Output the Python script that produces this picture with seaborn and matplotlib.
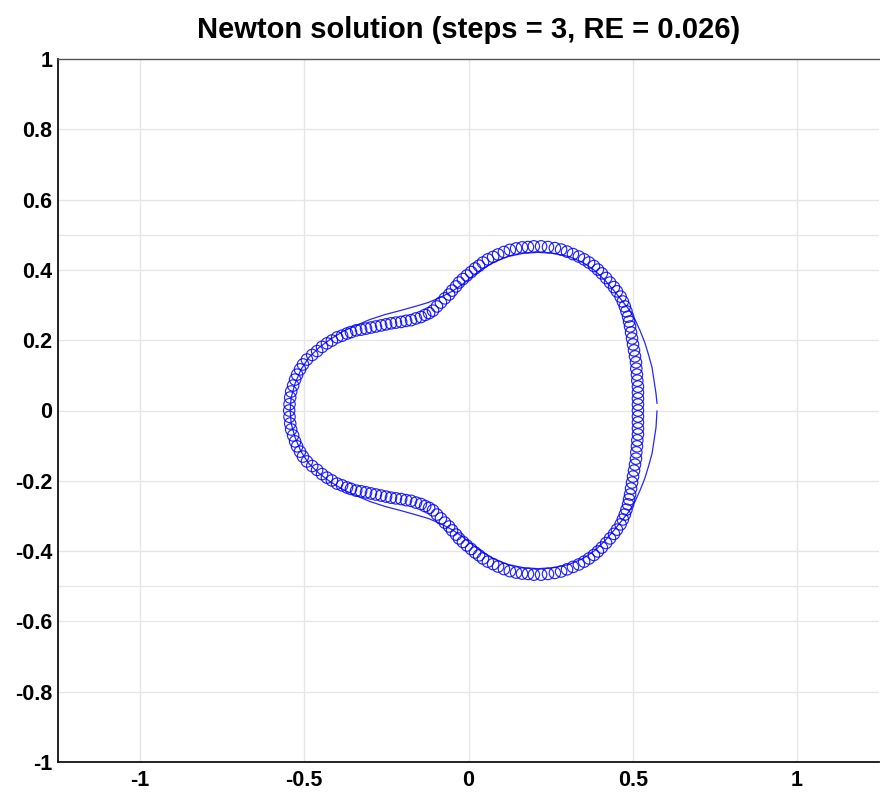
import matplotlib
matplotlib.use("Agg")
import matplotlib.pyplot as plt
import seaborn as sns
import pandas as pd

# ---- data ----
marker_x = [
    0.516, 0.516, 0.516, 0.516, 0.516, 0.514, 0.513, 0.511, 0.510, 0.507,
    0.504, 0.501, 0.498, 0.495, 0.492, 0.489, 0.486, 0.481, 0.476, 0.470,
    0.463, 0.452, 0.443, 0.431, 0.419, 0.406, 0.394, 0.382, 0.367, 0.352,
    0.336, 0.318, 0.300, 0.282, 0.263, 0.242, 0.221, 0.199, 0.181, 0.163,
    0.145, 0.126, 0.108, 0.090, 0.075, 0.059, 0.044, 0.032, 0.020, 0.008,
    -0.005, -0.017, -0.029, -0.038, -0.050, -0.059, -0.072, -0.084, -0.096, -0.108,
    -0.120, -0.132, -0.145, -0.160, -0.175, -0.190, -0.205, -0.221, -0.236, -0.251,
    -0.266, -0.282, -0.297, -0.312, -0.327, -0.342, -0.358, -0.370, -0.385, -0.400,
    -0.416, -0.431, -0.446, -0.461, -0.476, -0.492, -0.504, -0.513, -0.522, -0.528,
    -0.534, -0.540, -0.543, -0.545, -0.546,
    -0.545, -0.543, -0.540, -0.534, -0.528, -0.522, -0.513, -0.504, -0.492, -0.476,
    -0.461, -0.446, -0.431, -0.416, -0.400, -0.385, -0.370, -0.358, -0.342, -0.327,
    -0.312, -0.297, -0.282, -0.266, -0.251, -0.236, -0.221, -0.205, -0.190, -0.175,
    -0.160, -0.145, -0.132, -0.120, -0.108, -0.096, -0.084, -0.072, -0.059, -0.050,
    -0.038, -0.029, -0.017, -0.005, 0.008, 0.020, 0.032, 0.044, 0.059, 0.075,
    0.090, 0.108, 0.126, 0.145, 0.163, 0.181, 0.199, 0.221, 0.242, 0.263,
    0.282, 0.300, 0.318, 0.336, 0.352, 0.367, 0.382, 0.394, 0.406, 0.419,
    0.431, 0.443, 0.452, 0.463, 0.470, 0.476, 0.481, 0.486, 0.489, 0.492,
    0.495, 0.498, 0.501, 0.504, 0.507, 0.510, 0.511, 0.513, 0.514, 0.516,
    0.516, 0.516, 0.516,
]
marker_y = [
    0.000, 0.017, 0.034, 0.051, 0.068, 0.085, 0.102, 0.119, 0.137, 0.154,
    0.171, 0.188, 0.205, 0.222, 0.239, 0.253, 0.267, 0.282, 0.296, 0.310,
    0.324, 0.339, 0.351, 0.364, 0.377, 0.390, 0.401, 0.411, 0.421, 0.430,
    0.438, 0.445, 0.452, 0.458, 0.462, 0.465, 0.467, 0.467, 0.465, 0.464,
    0.461, 0.457, 0.451, 0.444, 0.437, 0.430, 0.421, 0.412, 0.404, 0.394,
    0.384, 0.374, 0.364, 0.353, 0.341, 0.330, 0.319, 0.307, 0.296, 0.284,
    0.277, 0.272, 0.266, 0.262, 0.257, 0.255, 0.252, 0.250, 0.248, 0.245,
    0.242, 0.239, 0.236, 0.233, 0.230, 0.228, 0.223, 0.219, 0.213, 0.208,
    0.199, 0.191, 0.181, 0.169, 0.158, 0.145, 0.131, 0.117, 0.102, 0.088,
    0.071, 0.054, 0.037, 0.018, 0.000,
    -0.018, -0.037, -0.054, -0.071, -0.088, -0.102, -0.117, -0.131, -0.145, -0.158,
    -0.169, -0.181, -0.191, -0.199, -0.208, -0.213, -0.219, -0.223, -0.228, -0.230,
    -0.233, -0.236, -0.239, -0.242, -0.245, -0.248, -0.250, -0.252, -0.255, -0.257,
    -0.262, -0.266, -0.272, -0.277, -0.284, -0.296, -0.307, -0.319, -0.330, -0.341,
    -0.353, -0.364, -0.374, -0.384, -0.394, -0.404, -0.412, -0.421, -0.430, -0.437,
    -0.444, -0.451, -0.457, -0.461, -0.464, -0.465, -0.467, -0.467, -0.465, -0.462,
    -0.458, -0.452, -0.445, -0.438, -0.430, -0.421, -0.411, -0.401, -0.390, -0.377,
    -0.364, -0.351, -0.339, -0.324, -0.310, -0.296, -0.282, -0.267, -0.253, -0.239,
    -0.222, -0.205, -0.188, -0.171, -0.154, -0.137, -0.119, -0.102, -0.085, -0.068,
    -0.051, -0.034, -0.017,
]

line_x = [
    0.574, 0.571, 0.565, 0.559, 0.549, 0.537, 0.522, 0.507, 0.489, 0.467,
    0.443, 0.416, 0.385, 0.349, 0.306, 0.260, 0.212, 0.166, 0.120, 0.081,
    0.044, 0.011, -0.020, -0.050, -0.087, -0.123, -0.163, -0.209, -0.254, -0.300,
    -0.342, -0.382, -0.422, -0.455, -0.486, -0.510, -0.528, -0.540, -0.543,
    -0.540, -0.528, -0.510, -0.486, -0.455, -0.422, -0.382, -0.342, -0.300, -0.254,
    -0.209, -0.163, -0.123, -0.087, -0.050, -0.020, 0.011, 0.044, 0.081, 0.120,
    0.166, 0.212, 0.260, 0.306, 0.349, 0.385, 0.416, 0.443, 0.467, 0.489,
    0.507, 0.522, 0.537, 0.549, 0.559, 0.565, 0.571, 0.574,
]
line_y = [
    0.020, 0.048, 0.085, 0.122, 0.156, 0.193, 0.228, 0.259, 0.287, 0.313,
    0.341, 0.370, 0.398, 0.421, 0.438, 0.447, 0.450, 0.447, 0.438, 0.424,
    0.404, 0.381, 0.358, 0.339, 0.321, 0.307, 0.296, 0.284, 0.273, 0.259,
    0.242, 0.225, 0.202, 0.179, 0.151, 0.117, 0.077, 0.037, 0.000,
    -0.037, -0.077, -0.117, -0.151, -0.179, -0.202, -0.225, -0.242, -0.259, -0.273,
    -0.284, -0.296, -0.307, -0.321, -0.339, -0.358, -0.381, -0.404, -0.424, -0.438,
    -0.447, -0.450, -0.447, -0.438, -0.421, -0.398, -0.370, -0.341, -0.313, -0.287,
    -0.259, -0.228, -0.193, -0.156, -0.122, -0.085, -0.048, -0.001,
]

x_ticks = [-1, -0.5, 0, 0.5, 1]
x_tick_labels = ["-1", "-0.5", "0", "0.5", "1"]
y_ticks = [-1, -0.8, -0.6, -0.4, -0.2, 0, 0.2, 0.4, 0.6, 0.8, 1]
y_tick_labels = ["-1", "-0.8", "-0.6", "-0.4", "-0.2", "0", "0.2", "0.4", "0.6", "0.8", "1"]
title_text = "Newton solution (steps = 3, RE = 0.026)"

# ---- figure ----
sns.set_theme(style="white")
plt.rcParams["font.family"] = ["Liberation Sans", "DejaVu Sans"]
plt.rcParams["axes.unicode_minus"] = False

W, H = 880, 797
fig = plt.figure(figsize=(W / 100, H / 100), dpi=100)
ax = fig.add_axes([58 / W, 1 - 762 / H, 821 / W, (762 - 59) / H])

grid_c = "#e6e6e6"
for gy in [-0.8, -0.6, -0.5, -0.4, -0.2, 0, 0.2, 0.4, 0.5, 0.6, 0.8]:
    ax.axhline(gy, color=grid_c, lw=1.0, zorder=0)
for gx in x_ticks:
    ax.axvline(gx, color=grid_c, lw=1.0, zorder=0)

line_df = pd.DataFrame({"x": line_x, "y": line_y})
marker_df = pd.DataFrame({"x": marker_x, "y": marker_y})

sns.lineplot(data=line_df, x="x", y="y", sort=False, estimator=None,
             color=(0.15, 0.15, 1.0), lw=0.9, ax=ax, zorder=3)
sns.scatterplot(data=marker_df, x="x", y="y", marker="o", s=68,
                facecolor="none", edgecolor=(0.0, 0.0, 1.0), linewidth=0.85,
                alpha=0.85, ax=ax, zorder=4)

ax.set_xlim(-1.25, 1.25)
ax.set_ylim(-1, 1)
ax.set_xticks(x_ticks)
ax.set_xticklabels(x_tick_labels)
ax.set_yticks(y_ticks)
ax.set_yticklabels(y_tick_labels)
ax.set_xlabel("")
ax.set_ylabel("")
ax.tick_params(axis="both", length=0, labelsize=15.5, colors="black")
ax.tick_params(axis="x", pad=6)
ax.tick_params(axis="y", pad=4)
for lab in ax.get_xticklabels() + ax.get_yticklabels():
    lab.set_fontweight("bold")

for side in ["left", "bottom"]:
    ax.spines[side].set_color("#111111")
    ax.spines[side].set_linewidth(1.3)
ax.spines["top"].set_color("#555555")
ax.spines["top"].set_linewidth(1.0)
ax.spines["right"].set_visible(False)

ax.set_title(title_text, fontsize=21, fontweight="bold", pad=15, color="black")

fig.savefig("out.png", dpi=100)
